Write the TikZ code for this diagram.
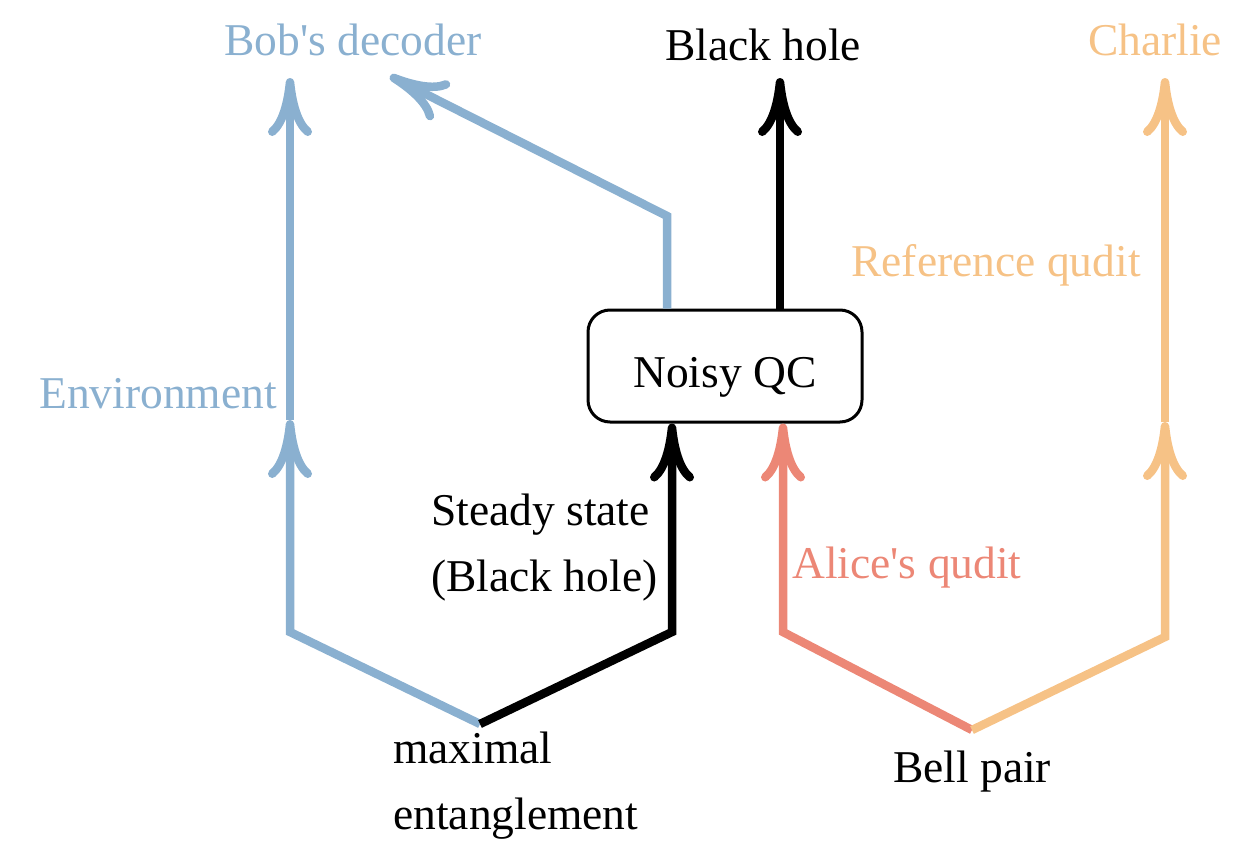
\documentclass[tikz,border=0pt]{standalone}
\usepackage{fontspec}
\setmainfont{Liberation Serif}
\usetikzlibrary{arrows.meta}
\definecolor{cblue}{RGB}{138,176,208}
\definecolor{cred}{RGB}{236,135,118}
\definecolor{corange}{RGB}{246,194,134}
\begin{document}
\begin{tikzpicture}[x=1pt,y=-1pt,
  lbl/.style={inner sep=0pt,font=\fontsize{45.5}{66}\selectfont},
  wire/.style={line width=8.5pt,line join=miter},
  arr/.style={wire,-{Computer Modern Rightarrow[length=58pt,width=44pt,line width=8.5pt]}}]
\useasboundingbox (0,0) rectangle (1242,862);
% nodes
\node[draw,line width=3pt,rounded corners=22pt,minimum width=274pt,minimum height=112pt,lbl,inner sep=0pt,text height=42pt,text depth=0pt] (qc) at (725,366) {Noisy QC};
\node[lbl,text=cblue] (bob) at (353,40) {Bob\textquotesingle s decoder};
\node[lbl] (bh) at (763,45) {Black hole};
\node[lbl,text=corange] (charlie) at (1155,40) {Charlie};
\node[lbl,text=corange] (ref) at (996,265) {Reference qudit};
\node[lbl,text=cblue] (env) at (158,394) {Environment};
\node[lbl,align=left,anchor=west] (steady) at (431,548) {Steady state\\(Black hole)};
\node[lbl,text=cred,anchor=west] (alice) at (792,568) {Alice\textquotesingle s qudit};
\node[lbl,align=left,anchor=north west] (maxent) at (393,732) {maximal\\entanglement};
\node[lbl] (bell) at (972,772) {Bell pair};
% coordinates
\coordinate (me) at (480,724);
\coordinate (bp) at (972,730);
\coordinate (envmid) at (290,420);
\coordinate (envtop) at (290,78);
\coordinate (bobtip) at (390,76);
\coordinate (bhtop) at (780,78);
\coordinate (refmid) at (1165,422);
\coordinate (chtop) at (1165,78);
% connectors
\draw[arr,cblue] (me) -- (290,632) -- (envmid);
\draw[arr,cblue] (envmid) -- (envtop);
\draw[arr,cblue] (qc.north -| 667,0) -- (667,216) -- (bobtip);
\draw[arr,black] (qc.north -| 780,0) -- (bhtop);
\draw[arr,black] (me) -- (672,632) -- (qc.south -| 672,0);
\draw[arr,cred] (bp) -- (783,632) -- (qc.south -| 783,0);
\draw[arr,corange] (bp) -- (1165,637) -- (refmid);
\draw[arr,corange] (refmid) -- (chtop);
\end{tikzpicture}
\end{document}
